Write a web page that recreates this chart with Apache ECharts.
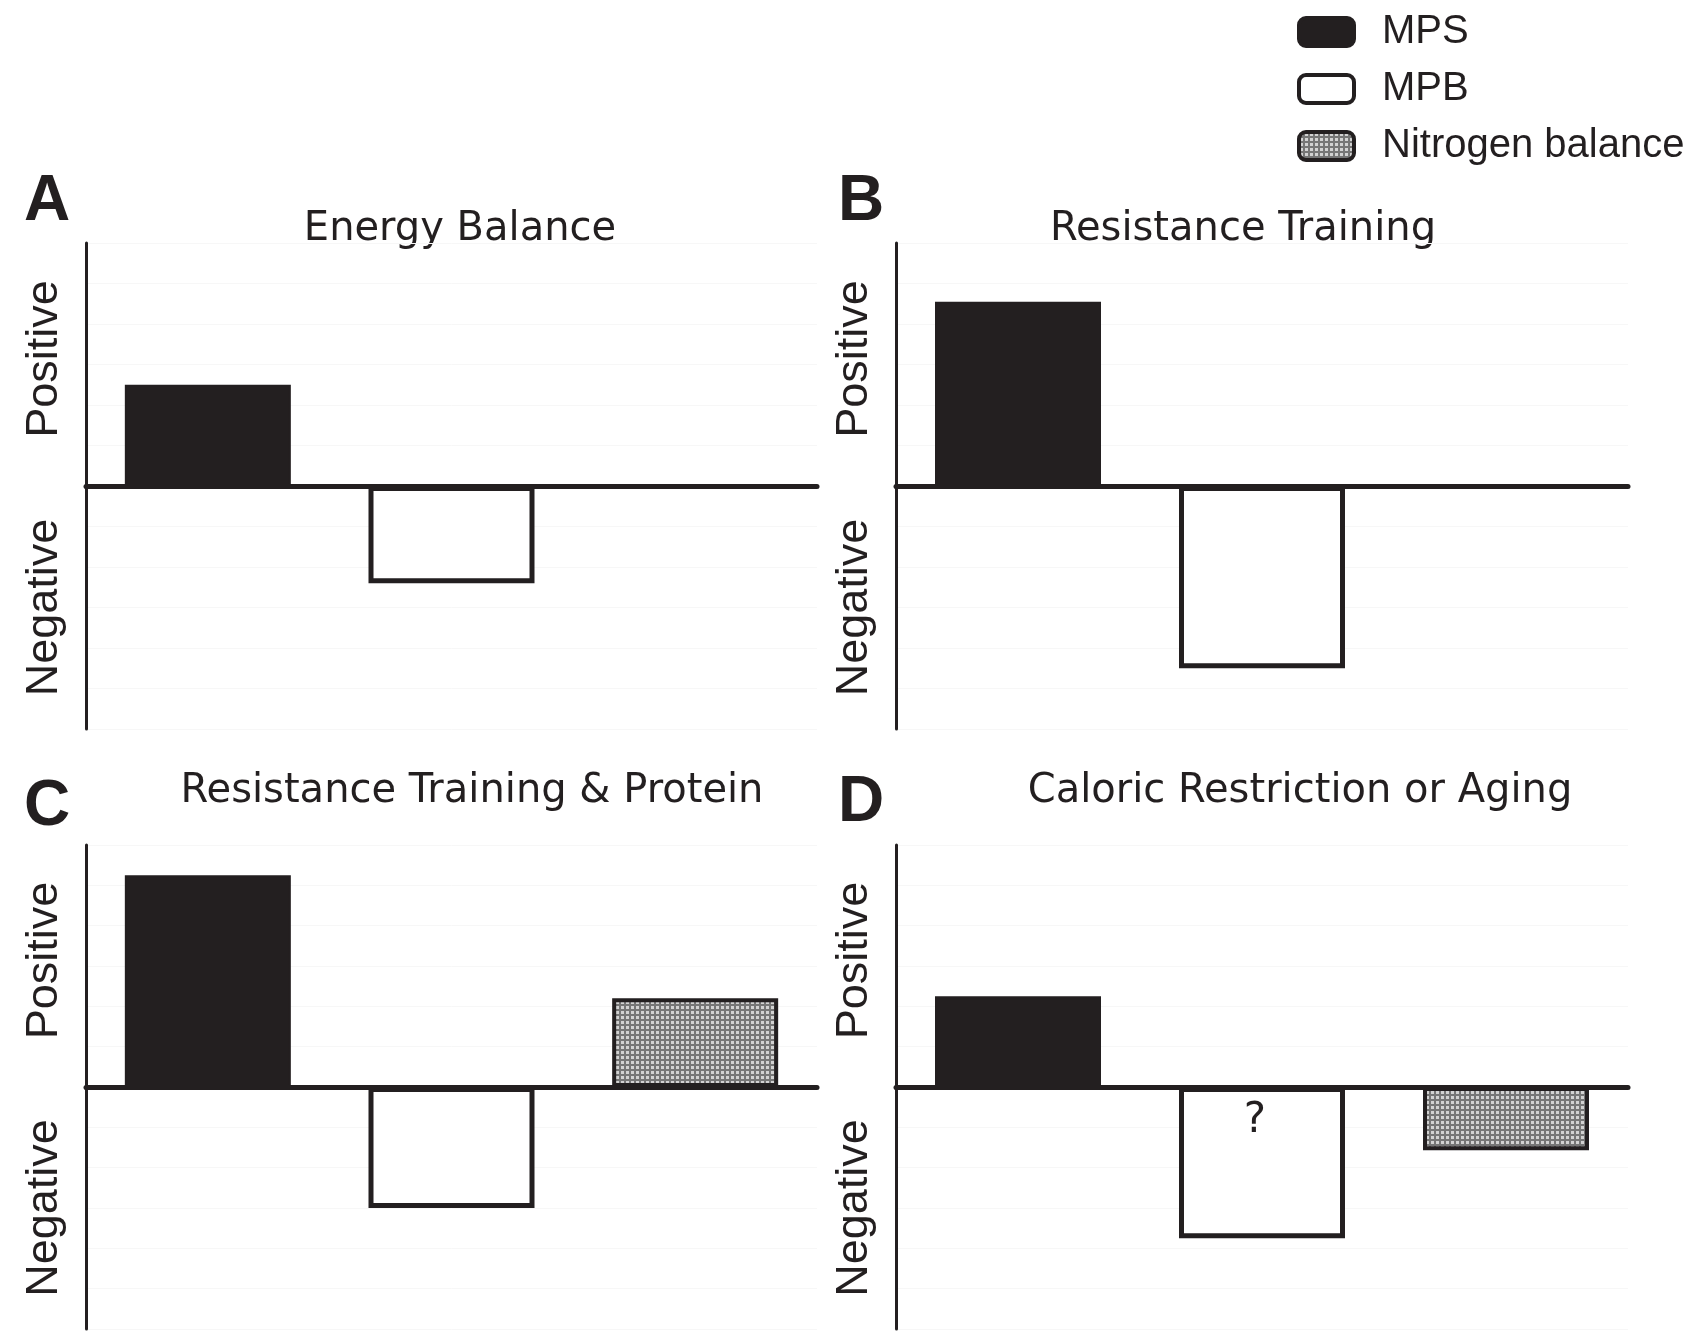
<!DOCTYPE html>
<html>
<head>
<meta charset="utf-8">
<script src="https://cdn.jsdelivr.net/npm/echarts@6/dist/echarts.min.js"></script>
<style>
html,body{margin:0;padding:0;background:#ffffff;}
#chart{width:1693px;height:1332px;}
</style>
</head>
<body>
<div id="chart"></div>
<script>
// ---------- data ----------
const panelLetters = ['A', 'B', 'C', 'D'];
const panelTitles = ['Energy Balance', 'Resistance Training', 'Resistance Training & Protein', 'Caloric Restriction or Aging'];
const categories = ['MPS', 'MPB', 'Nitrogen balance'];
const mpsValues = [2.5, 4.55, 5.25, 2.25];
const mpbValues = [-2.4, -4.5, -3.0, -3.75];
const nitrogenValues = [null, null, 2.2, -1.57];
const mpbNotes = ['', '', '', '?'];
const yTickLabels = { '3': 'Positive', '-3': 'Negative' };

// ---------- styling / layout ----------
const DARK = '#231f20';
const BAR_W = 166;
const grids = [
  { left: 86, top: 243, width: 731, height: 486 },
  { left: 896, top: 243, width: 732, height: 486 },
  { left: 86, top: 845, width: 731, height: 486 },
  { left: 896, top: 845, width: 732, height: 486 }
];
const titlePos = [[460, 230], [1243, 230], [472, 792], [1300, 792]];
const letterPos = [[47, 202], [861, 202], [47, 807], [861, 803]];

function makePattern() {
  const c = document.createElement('canvas');
  c.width = 5; c.height = 5;
  const g = c.getContext('2d');
  g.fillStyle = '#767676'; g.fillRect(0, 0, 5, 5);
  g.fillStyle = '#d2d2d2'; g.fillRect(1, 1, 3, 3);
  return c;
}
const pattern = { image: makePattern(), repeat: 'repeat' };

const labelFont = { fontFamily: 'Liberation Sans', fontSize: 45, color: DARK };

const xAxes = [], yAxes = [], series = [], graphics = [];
grids.forEach((g, i) => {
  xAxes.push({
    type: 'category', gridIndex: i, data: categories, z: 5,
    axisLine: { show: true, onZero: true, lineStyle: { color: DARK, width: 5 } },
    axisTick: { show: false }, axisLabel: { show: false }, splitLine: { show: false }
  });
  yAxes.push({
    type: 'value', gridIndex: i, min: -6, max: 6, interval: 1,
    axisLine: { show: true, lineStyle: { color: DARK, width: 3 } },
    axisTick: { show: false },
    splitLine: { show: true, lineStyle: { color: '#f7f7f7', width: 1 } },
    axisLabel: Object.assign({
      rotate: 90, margin: 19,
      formatter: v => {
        const t = yTickLabels[String(v)];
        if (!t) return '';
        return v > 0 ? '{p|' + t + '}' : '{n|' + t + '}';
      },
      rich: {
        p: Object.assign({ padding: [0, 0, 0, 11] }, labelFont),
        n: Object.assign({ padding: [0, 0, 0, 0] }, labelFont)
      }
    }, labelFont)
  });
  series.push({
    name: 'MPS', type: 'bar', xAxisIndex: i, yAxisIndex: i, barWidth: BAR_W, barGap: '-100%',
    data: categories.map((c, j) => j === 0 ? mpsValues[i] : '-'),
    itemStyle: { color: DARK, borderColor: DARK, borderWidth: 2 }
  });
  series.push({
    name: 'MPB', type: 'bar', xAxisIndex: i, yAxisIndex: i, barWidth: BAR_W, barGap: '-100%',
    data: categories.map((c, j) => j === 1 ? {
      value: mpbValues[i],
      label: {
        show: !!mpbNotes[i], formatter: mpbNotes[i], position: 'insideTop', distance: 13, offset: [-7, 0],
        fontFamily: 'DejaVu Sans', fontSize: 42, color: DARK
      }
    } : '-'),
    itemStyle: { color: '#ffffff', borderColor: DARK, borderWidth: 5 }
  });
  series.push({
    name: 'Nitrogen balance', type: 'bar', xAxisIndex: i, yAxisIndex: i, barWidth: BAR_W, barGap: '-100%',
    data: categories.map((c, j) => (j === 2 && nitrogenValues[i] !== null) ? nitrogenValues[i] : '-'),
    itemStyle: { color: pattern, borderColor: DARK, borderWidth: 4 }
  });
  graphics.push({
    type: 'text', x: titlePos[i][0], y: titlePos[i][1],
    style: { text: panelTitles[i], fill: DARK, font: '40px "DejaVu Sans"', align: 'center', verticalAlign: 'middle' }
  });
  graphics.push({
    type: 'text', x: letterPos[i][0], y: letterPos[i][1],
    style: { text: panelLetters[i], fill: DARK, font: 'bold 64px "Liberation Sans"', align: 'center', verticalAlign: 'middle' }
  });
});

const chart = echarts.init(document.getElementById('chart'), null, { renderer: 'canvas' });
chart.setOption({
  animation: false,
  backgroundColor: '#ffffff',
  grid: grids.map(g => Object.assign({ containLabel: false }, g)),
  xAxis: xAxes,
  yAxis: yAxes,
  series: series,
  legend: {
    data: categories, orient: 'vertical', left: 1297, top: 12, padding: 0,
    itemWidth: 55, itemHeight: 28, itemGap: 17, icon: 'roundRect', selectedMode: false,
    itemStyle: { borderWidth: 4, borderColor: DARK },
    textStyle: { fontFamily: 'Liberation Sans', fontSize: 40, lineHeight: 40, color: DARK, padding: [0, 0, 0, 23] }
  },
  graphic: graphics
});
</script>
</body>
</html>
